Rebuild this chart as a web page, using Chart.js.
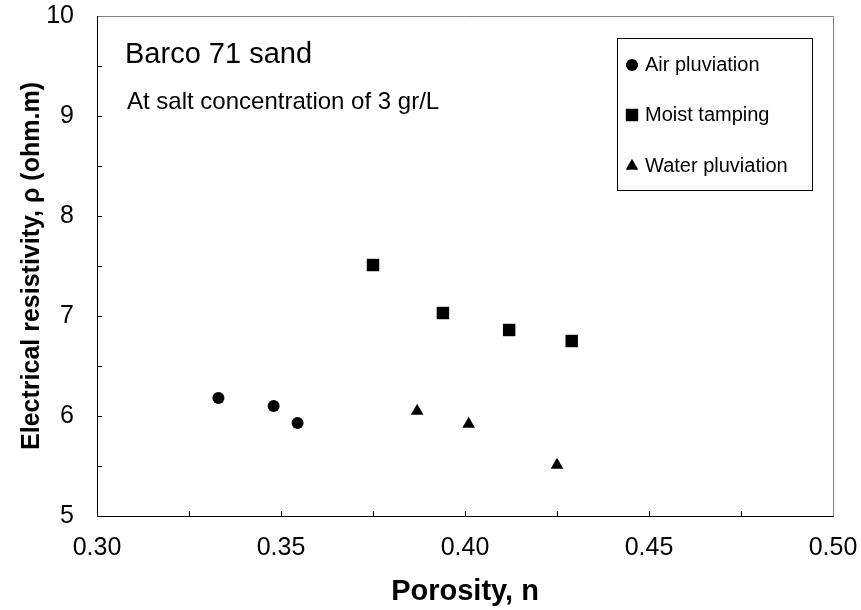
<!DOCTYPE html>
<html>
<head>
<meta charset="utf-8">
<script src="https://cdn.jsdelivr.net/npm/chart.js@4"></script>
<style>
body{margin:0;background:#fff;}
#wrap{width:861px;height:610px;}
</style>
</head>
<body>
<div id="wrap"><canvas id="porosityChart" width="861" height="610"></canvas></div>
<script>
// values
const airX = [0.333, 0.348, 0.3545];
const airY = [6.18, 6.10, 5.93];
const moistX = [0.375, 0.394, 0.412, 0.429];
const moistY = [7.51, 7.03, 6.86, 6.75];
const waterX = [0.387, 0.401, 0.425];
const waterY = [6.05, 5.92, 5.51];

const seriesNames = ["Air pluviation", "Moist tamping", "Water pluviation"];
const chartTitle = "Barco 71 sand";
const chartNote = "At salt concentration of 3 gr/L";

const FONT = "'Liberation Sans', Arial, sans-serif";

function toPoints(xs, ys){
return xs.map(function(x, i){ return {x: x, y: ys[i]}; });
}

// keep the plot box where the layout padding puts it
function noScalePadding(s){
s.paddingLeft = 0;
s.paddingRight = 0;
s.paddingTop = 0;
s.paddingBottom = 0;
}

// frame, inward ticks, text and legend
const framePlugin = {
id: "frame",
afterDraw: function(chart){
const ctx = chart.ctx;
const a = chart.chartArea;
const xs = chart.scales.x;
const ys = chart.scales.y;
ctx.save();

ctx.lineWidth = 1;
ctx.strokeStyle = "#808080";
ctx.beginPath();
ctx.moveTo(a.left, a.top + 0.5);
ctx.lineTo(a.right + 0.5, a.top + 0.5);
ctx.lineTo(a.right + 0.5, a.bottom);
ctx.stroke();

ctx.strokeStyle = "#000";
ctx.beginPath();
ctx.moveTo(a.left + 0.5, a.top);
ctx.lineTo(a.left + 0.5, a.bottom + 0.5);
ctx.lineTo(a.right + 1, a.bottom + 0.5);
ctx.stroke();

ctx.beginPath();
xs.ticks.forEach(function(t){
const px = Math.round(xs.getPixelForValue(t.value)) + 0.5;
if (px <= a.left + 2 || px >= a.right - 2) return;
ctx.moveTo(px, a.bottom);
ctx.lineTo(px, a.bottom - 5);
});
ys.ticks.forEach(function(t){
const py = Math.round(ys.getPixelForValue(t.value)) + 0.5;
if (py <= a.top + 2 || py >= a.bottom - 2) return;
ctx.moveTo(a.left, py);
ctx.lineTo(a.left + 5, py);
});
ctx.stroke();

ctx.fillStyle = "#000";
ctx.textAlign = "left";
ctx.textBaseline = "alphabetic";
ctx.font = "29px " + FONT;
ctx.fillText(chartTitle, 125, 63);
ctx.font = "24px " + FONT;
ctx.fillText(chartNote, 127, 109);

// legend box
const lx = 617, ly = 38, lw = 195, lh = 152;
ctx.strokeRect(lx + 0.5, ly + 0.5, lw, lh);
ctx.font = "20px " + FONT;
ctx.textBaseline = "middle";
const rowY = [65, 115, 166];
chart.data.datasets.forEach(function(ds, i){
Chart.helpers.drawPoint(ctx, {
pointStyle: ds.pointStyle,
radius: ds.pointRadius,
borderWidth: 0
}, 632, rowY[i]);
ctx.fillStyle = "#000";
ctx.fillText(ds.label, 645, rowY[i]);
});

ctx.restore();
}
};

new Chart(document.getElementById("porosityChart"), {
type: "scatter",
data: {
datasets: [
{
label: seriesNames[0],
data: toPoints(airX, airY),
pointStyle: "circle",
pointRadius: 6,
backgroundColor: "#000",
borderColor: "#000",
borderWidth: 0
},
{
label: seriesNames[1],
data: toPoints(moistX, moistY),
pointStyle: "rect",
pointRadius: 8.8,
backgroundColor: "#000",
borderColor: "#000",
borderWidth: 0
},
{
label: seriesNames[2],
data: toPoints(waterX, waterY),
pointStyle: "triangle",
pointRadius: 7.3,
backgroundColor: "#000",
borderColor: "#000",
borderWidth: 0
}
]
},
options: {
responsive: false,
animation: false,
layout: {padding: {top: 16, right: 28, left: 0, bottom: 0}},
plugins: {
legend: {display: false},
tooltip: {enabled: false}
},
scales: {
x: {
type: "linear",
min: 0.30,
max: 0.50,
grid: {display: false, drawTicks: false},
border: {display: false},
afterFit: function(s){ s.height = 94; noScalePadding(s); },
ticks: {
stepSize: 0.025,
autoSkip: false,
maxRotation: 0,
padding: 17,
color: "#000",
font: {family: FONT, size: 25},
callback: function(v){
const k = v * 20;
return Math.abs(k - Math.round(k)) < 1e-6 ? v.toFixed(2) : "";
}
},
title: {
display: true,
text: "Porosity, n",
color: "#000",
font: {family: FONT, size: 29, weight: "bold"},
padding: {top: 0, bottom: 1}
}
},
y: {
type: "linear",
min: 5,
max: 10,
grid: {display: false, drawTicks: false},
border: {display: false},
afterFit: function(s){ s.width = 97; noScalePadding(s); },
ticks: {
stepSize: 0.5,
autoSkip: false,
padding: 23,
color: "#000",
font: {family: FONT, size: 25},
callback: function(v){
return Math.abs(v - Math.round(v)) < 1e-6 ? String(Math.round(v)) : "";
}
},
title: {
display: true,
text: "Electrical resistivity, ρ (ohm.m)",
color: "#000",
font: {family: FONT, size: 25, weight: "bold"},
padding: {top: 17, bottom: 0}
}
}
}
},
plugins: [framePlugin]
});
</script>
</body>
</html>
